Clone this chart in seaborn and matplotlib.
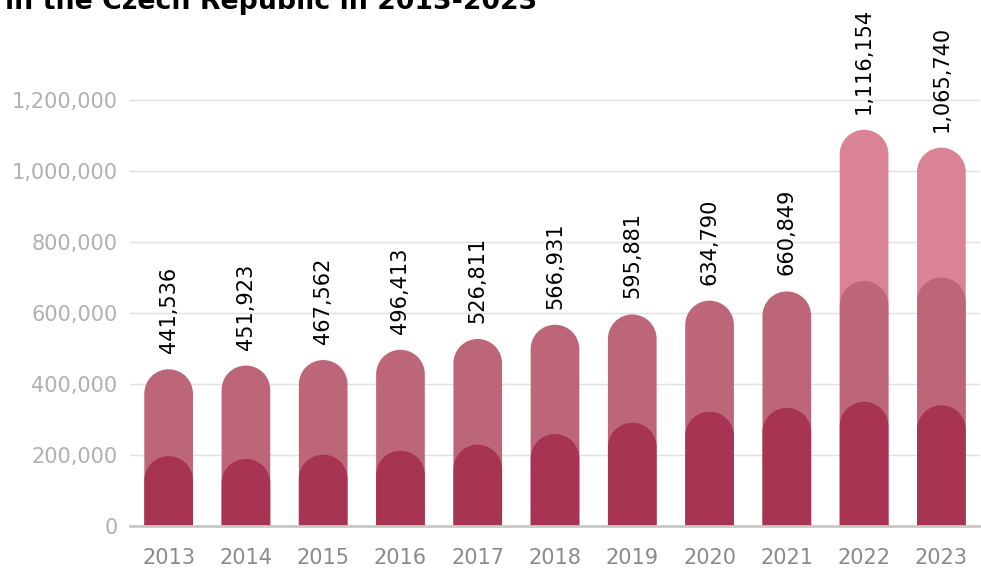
import numpy as np
import pandas as pd
import matplotlib
matplotlib.use("Agg")
import matplotlib.pyplot as plt
import seaborn as sns
from matplotlib.path import Path
from matplotlib.patches import PathPatch

# Yearly totals and their three components
years = ["2013", "2014", "2015", "2016", "2017", "2018", "2019", "2020", "2021", "2022", "2023"]
totals = [441536, 451923, 467562, 496413, 526811, 566931, 595881, 634790, 660849, 1116154, 1065740]
bottom_part = [197000, 189000, 201000, 212000, 229000, 259000, 291000, 322000, 333000, 350000, 340000]
middle_part = [244536, 262923, 266562, 284413, 297811, 307931, 304881, 312790, 327849, 340000, 360000]
top_part = [0, 0, 0, 0, 0, 0, 0, 0, 0, 426154, 365740]

y_ticks = [0, 200000, 400000, 600000, 800000, 1000000, 1200000]

c_bottom = "#A63452"
c_middle = "#BE6679"
c_top = "#DB8396"

sns.set_theme(style="white")
plt.rcParams["font.family"] = ["DejaVu Sans"]

W, H = 981, 571
fig = plt.figure(figsize=(W / 100, H / 100), dpi=100)
ax_left, ax_right, ax_bottom, ax_top = 130, 980, 526, 29
ax = fig.add_axes([ax_left / W, 1 - ax_bottom / H, (ax_right - ax_left) / W, (ax_bottom - ax_top) / H])

df = pd.DataFrame({
    "year": years,
    "total": totals,
    "bottom": bottom_part,
    "middle": middle_part,
    "top": top_part,
})
df["cum_mid"] = df["bottom"] + df["middle"]
df["cum_top"] = np.where(df["top"] > 0, df["cum_mid"] + df["top"], 0)

bar_w = 0.63
# Overlapping bars, tallest drawn first so each lower band sits in front
sns.barplot(data=df, x="year", y="cum_top", color=c_top, width=bar_w, saturation=1, ax=ax)
sns.barplot(data=df, x="year", y="cum_mid", color=c_middle, width=bar_w, saturation=1, ax=ax)
sns.barplot(data=df, x="year", y="bottom", color=c_bottom, width=bar_w, saturation=1, ax=ax)

ymax = 1400000
ax.set_ylim(0, ymax)
ax.set_xlim(-0.5, len(years) - 0.5)

# Swap each square bar for one with a semicircular top (round in pixel space)
px_per_x = (ax_right - ax_left) / len(years)
px_per_y = (ax_bottom - ax_top) / ymax
arc = Path.arc(0, 180)
bars = list(ax.patches)
for p in bars:
    x0, w, h = p.get_x(), p.get_width(), p.get_height()
    fc = p.get_facecolor()
    zo = p.get_zorder()
    p.remove()
    if not np.isfinite(h) or h <= 0:
        continue
    rx = w / 2
    ry = (w * px_per_x / 2) / px_per_y
    cx, cy = x0 + rx, h - ry
    arc_pts = arc.vertices * np.array([rx, ry]) + np.array([cx, cy])
    verts = [(x0, 0), (x0 + w, 0), (x0 + w, cy)] + [tuple(v) for v in arc_pts[1:]] + [(x0, 0)]
    codes = [Path.MOVETO, Path.LINETO, Path.LINETO] + list(arc.codes[1:]) + [Path.CLOSEPOLY]
    ax.add_patch(PathPatch(Path(verts, codes), facecolor=fc, edgecolor="none",
                           linewidth=0, zorder=zo))

# Total labels above each bar
for i, t in enumerate(df["total"]):
    ax.annotate(f"{t:,}", xy=(i, t), xytext=(0, 11.5), textcoords="offset points",
                rotation=90, ha="center", va="bottom", fontsize=15, color="black",
                annotation_clip=False)

ax.set_yticks(y_ticks)
ax.set_yticklabels([f"{v:,}" for v in y_ticks])
ax.yaxis.grid(True, color="#e0e0e0", linewidth=1)
ax.xaxis.grid(False)
ax.set_axisbelow(True)
ax.set_xlabel("")
ax.set_ylabel("")
for s in ["left", "right", "top"]:
    ax.spines[s].set_visible(False)
ax.spines["bottom"].set_color("#c8c8c8")
ax.spines["bottom"].set_linewidth(2)
ax.spines["bottom"].set_zorder(5)
ax.tick_params(axis="y", length=0, pad=9, labelsize=15, labelcolor="#b0b0b0")
ax.tick_params(axis="x", length=0, pad=16, labelsize=15, labelcolor="#8a8a8a")

fig.text(5 / W, 1 - 9 / H, "in the Czech Republic in 2013-2023", fontsize=19.3,
         fontweight="bold", color="black", ha="left", va="baseline")

fig.savefig("out.png", dpi=100)
